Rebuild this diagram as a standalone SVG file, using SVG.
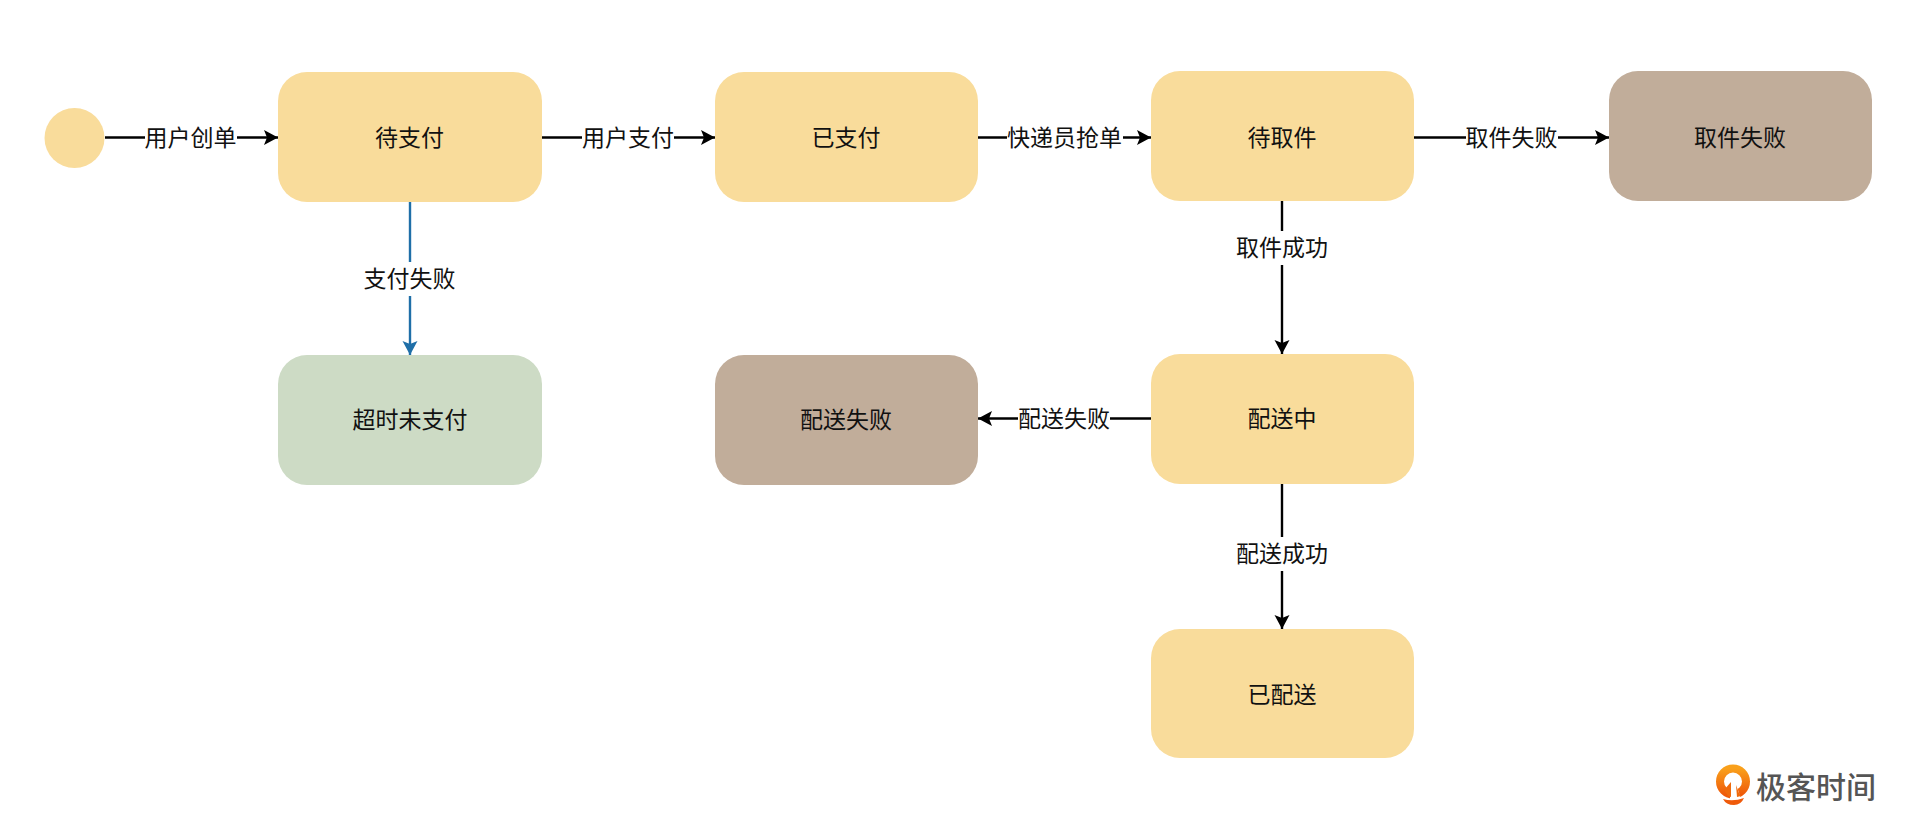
<svg xmlns="http://www.w3.org/2000/svg" width="1920" height="836" viewBox="0 0 1920 836">
<style>
text{font-family:"Noto Sans CJK SC","Liberation Sans",sans-serif;font-size:23px;fill:#111;text-anchor:middle;dominant-baseline:central}
.y{fill:#f9dc9b}.b{fill:#c1ad9a}.g{fill:#cddbc5}
.c line{stroke:#000;stroke-width:2.4;marker-end:url(#a)}
.c line.blue{stroke:#1f6fa8;marker-end:url(#ab)}
.l rect{fill:#fff}
.logo{font-size:30px;fill:#555;font-weight:500;text-anchor:start}
</style>
<defs>
<marker id="a" markerUnits="userSpaceOnUse" markerWidth="16" markerHeight="18" refX="15" refY="9" orient="auto"><path d="M1 1.500 L15 9 L1 16.500 L4 9 Z" fill="#000"/></marker>
<marker id="ab" markerUnits="userSpaceOnUse" markerWidth="16" markerHeight="18" refX="15" refY="9" orient="auto"><path d="M1 1.500 L15 9 L1 16.500 L4 9 Z" fill="#1f6fa8"/></marker>
<linearGradient id="o" x1="0" y1="0" x2="0" y2="1"><stop offset="0" stop-color="#f9a01b"/><stop offset="1" stop-color="#ef5a0a"/></linearGradient>
</defs>
<rect width="1920" height="836" fill="#fff"/>
<g id="connectors" class="c">
<line x1="105" y1="137.500" x2="278" y2="137.500"/>
<line x1="542" y1="137.500" x2="715" y2="137.500"/>
<line x1="978" y1="137.500" x2="1151" y2="137.500"/>
<line x1="1414" y1="137.500" x2="1609" y2="137.500"/>
<line class="blue" x1="410" y1="202" x2="410" y2="355"/>
<line x1="1282" y1="201" x2="1282" y2="354"/>
<line x1="1151" y1="418.500" x2="978" y2="418.500"/>
<line x1="1282" y1="484" x2="1282" y2="629"/>
</g>
<g id="labels" class="l">
<g><rect x="145" y="122" width="92" height="30"/><text x="190.500" y="136">用户创单</text></g>
<g><rect x="582" y="122" width="92" height="30"/><text x="628" y="136">用户支付</text></g>
<g><rect x="1007" y="122" width="116" height="30"/><text x="1064.500" y="136">快递员抢单</text></g>
<g><rect x="1466" y="122" width="92" height="30"/><text x="1511.500" y="136">取件失败</text></g>
<g><rect x="362" y="262" width="96" height="34"/><text x="409.500" y="277">支付失败</text></g>
<g><rect x="1234" y="231" width="96" height="34"/><text x="1282" y="246">取件成功</text></g>
<g><rect x="1018" y="403" width="92" height="30"/><text x="1064" y="417">配送失败</text></g>
<g><rect x="1234" y="537" width="96" height="34"/><text x="1282" y="552">配送成功</text></g>
</g>
<g id="start"><circle class="y" cx="74.500" cy="138" r="30"/></g>
<g id="n-daizhifu"><rect class="y" x="278" y="72" width="264" height="130" rx="29"/><text x="409.500" y="136">待支付</text></g>
<g id="n-yizhifu"><rect class="y" x="715" y="72" width="263" height="130" rx="29"/><text x="846" y="136">已支付</text></g>
<g id="n-daiqujian"><rect class="y" x="1151" y="71" width="263" height="130" rx="29"/><text x="1282" y="136">待取件</text></g>
<g id="n-qujianshibai"><rect class="b" x="1609" y="71" width="263" height="130" rx="29"/><text x="1740" y="136">取件失败</text></g>
<g id="n-chaoshi"><rect class="g" x="278" y="355" width="264" height="130" rx="29"/><text x="410" y="418">超时未支付</text></g>
<g id="n-peisongshibai"><rect class="b" x="715" y="355" width="263" height="130" rx="29"/><text x="846" y="418">配送失败</text></g>
<g id="n-peisongzhong"><rect class="y" x="1151" y="354" width="263" height="130" rx="29"/><text x="1282" y="417">配送中</text></g>
<g id="n-yipeisong"><rect class="y" x="1151" y="629" width="263" height="129" rx="29"/><text x="1282" y="693">已配送</text></g>
<g id="logo">
<circle cx="1733" cy="781.500" r="13" fill="none" stroke="url(#o)" stroke-width="8"/>
<path fill="#fff" d="M1730 787h7l4 12h-11z"/>
<path fill="#ef6a0c" d="M1724 790l7 -8v15l-3 -1z"/>
<path fill="#ef6a0c" d="M1736 785l3 8l2 3l-4 1z"/>
<path fill="#ef5a0a" d="M1723 799q10 3 21 -1q-3 7 -10 7q-8 0 -11 -6z"/>
<text class="logo" x="1756" y="785">极客时间</text>
</g>
</svg>
